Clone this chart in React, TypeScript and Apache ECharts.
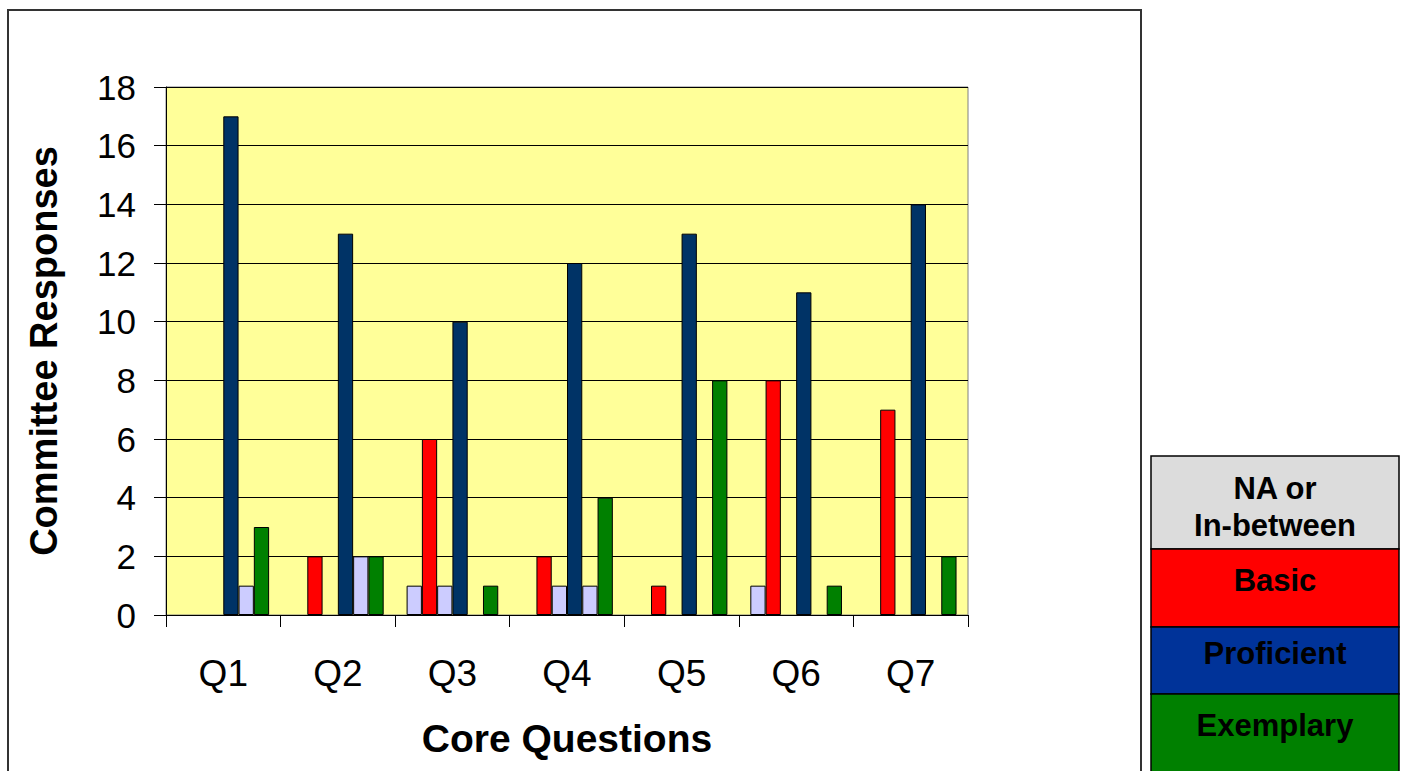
import React, { useEffect, useRef } from "react";
import * as echarts from "echarts";

const categories = ["Q1", "Q2", "Q3", "Q4", "Q5", "Q6", "Q7"];
const naValues = [0, 0, 1, 0, 0, 1, 0];
const basicValues = [0, 2, 6, 2, 1, 8, 7];
const basicProfValues = [0, 0, 1, 1, 0, 0, 0];
const proficientValues = [17, 13, 10, 12, 13, 11, 14];
const profExempValues = [1, 2, 0, 1, 0, 0, 0];
const exemplaryValues = [3, 2, 1, 4, 8, 1, 2];
const yTicks = [0, 2, 4, 6, 8, 10, 12, 14, 16, 18];

const legendItems = [
  { label: "NA or\nIn-between", color: "#DCDCDC", y: 456, h: 93, dy: 4 },
  { label: "Basic", color: "#FF0000", y: 549, h: 78, dy: -8 },
  { label: "Proficient", color: "#003399", y: 627, h: 67, dy: -7 },
  { label: "Exemplary", color: "#008000", y: 694, h: 80, dy: -9 },
];

const FONT = "'Liberation Sans', Arial, sans-serif";
const NARROW = "'Liberation Sans Narrow', 'Liberation Sans', Arial, sans-serif";

export default function App() {
  const ref = useRef<HTMLDivElement>(null);
  useEffect(() => {
    if (!ref.current) return;
    const chart = echarts.init(ref.current, undefined, { renderer: "svg" });
    const mk = (name: string, data: number[], color: string) => ({
      name,
      type: "bar",
      data: data.map((v) => (v === 0 ? "-" : v)),
      barGap: "0%",
      barCategoryGap: "20%",
      itemStyle: { color, borderColor: "#000", borderWidth: 1 },
    });
    chart.setOption({
      animation: false,
      backgroundColor: "#fff",
      grid: {
        left: 166,
        top: 87,
        right: 435,
        bottom: 156,
        show: true,
        backgroundColor: "#FFFF99",
        borderColor: "#808080",
        borderWidth: 1,
      },
      xAxis: {
        type: "category",
        data: categories,
        name: "Core Questions",
        nameLocation: "middle",
        nameGap: 104,
        nameTextStyle: { fontFamily: NARROW, fontWeight: "bold", fontSize: 39, color: "#000" },
        axisLine: { lineStyle: { color: "#000", width: 1 } },
        axisTick: { show: true, length: 12, lineStyle: { color: "#000" } },
        axisLabel: { fontFamily: NARROW, fontSize: 37, color: "#000", margin: 40 },
      },
      yAxis: {
        type: "value",
        min: 0,
        max: 18,
        interval: 2,
        name: "Committee Responses",
        nameLocation: "middle",
        nameGap: 103,
        nameTextStyle: { fontFamily: NARROW, fontWeight: "bold", fontSize: 38, color: "#000" },
        axisLine: { show: true, lineStyle: { color: "#000", width: 1 } },
        axisTick: { show: true, length: 12, lineStyle: { color: "#000" } },
        axisLabel: {
          fontFamily: FONT,
          fontSize: 35,
          color: "#000",
          margin: 30,
          formatter: (v: number) => (yTicks.includes(v) ? String(v) : ""),
        },
        splitLine: { show: true, lineStyle: { color: "#000", width: 1 } },
      },
      series: [
        mk("NA", naValues, "#CCCCFF"),
        mk("Basic", basicValues, "#FF0000"),
        mk("Basic/Proficient", basicProfValues, "#CCCCFF"),
        mk("Proficient", proficientValues, "#003366"),
        mk("Proficient/Exemplary", profExempValues, "#CCCCFF"),
        mk("Exemplary", exemplaryValues, "#008000"),
      ],
      graphic: [
        {
          type: "rect",
          shape: { x: 8, y: 10, width: 1133, height: 780 },
          style: { fill: "none", stroke: "#333", lineWidth: 2 },
          silent: true,
        },
        ...legendItems.flatMap((it) => [
          {
            type: "rect",
            shape: { x: 1151, y: it.y, width: 248, height: it.h },
            style: { fill: it.color, stroke: "#000", lineWidth: 1.5 },
          },
          {
            type: "text",
            x: 1275,
            y: it.y + it.h / 2 + it.dy,
            style: {
              text: it.label,
              fill: "#000",
              font: `bold 31px ${FONT}`,
              align: "center",
              verticalAlign: "middle",
              lineHeight: 37,
            },
          },
        ]),
      ],
    });
    return () => chart.dispose();
  }, []);
  return (
    <div
      ref={ref}
      style={{ position: "absolute", left: 0, top: 0, width: 1403, height: 771 }}
    />
  );
}
